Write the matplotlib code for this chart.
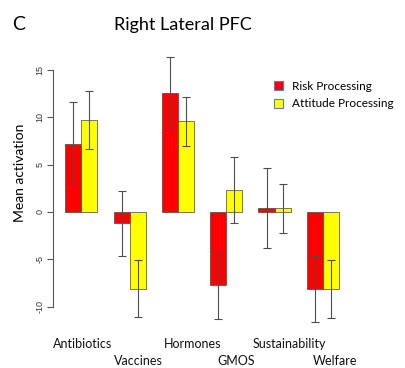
import numpy as np
import matplotlib
matplotlib.use("Agg")
import matplotlib.pyplot as plt
from matplotlib.patches import Patch

categories = ["Antibiotics", "Vaccines", "Hormones", "GMOS", "Sustainability", "Welfare"]
risk = [7.2, -1.2, 12.55, -7.7, 0.42, -8.1]
risk_err = [4.4, 3.45, 3.75, 3.6, 4.25, 3.5]
attitude = [9.7, -8.1, 9.55, 2.35, 0.4, -8.1]
attitude_err = [3.05, 3.03, 2.63, 3.5, 2.6, 3.05]
yticks = [-10, -5, 0, 5, 10, 15]

# label nudges (bar units) relative to group centre, two staggered rows
label_shift = [0.1, 0.55, 0.9, 0.6, 0.9, 0.75]
label_row = [0, 1, 0, 1, 0, 1]

W, H = 406, 368
fig = plt.figure(figsize=(W / 100, H / 100), dpi=100)
ax = fig.add_axes([45 / W, 38 / H, 355 / W, 280 / H])

n = len(categories)
left = 1 + 3 * np.arange(n)   # R barplot beside=TRUE, space=c(0,1)
err_kw = dict(ecolor="#4d4d4d", elinewidth=0.8, capsize=2.8, capthick=0.8)
ax.bar(left, risk, width=1, align="edge", color="#ff0000",
       edgecolor="#444444", linewidth=0.5)
ax.bar(left + 1, attitude, width=1, align="edge", color="#ffff00",
       edgecolor="#444444", linewidth=0.5)
ax.errorbar(left + 0.5, risk, yerr=risk_err, fmt="none", zorder=3, **err_kw)
ax.errorbar(left + 1.5, attitude, yerr=attitude_err, fmt="none", zorder=3, **err_kw)

ax.set_xlim(-0.26, 21.79)
ax.set_ylim(-12.45, 17.09)
for s in ["top", "right", "bottom"]:
    ax.spines[s].set_visible(False)
ax.spines["left"].set_bounds(-10, 15)
ax.spines["left"].set_position(("data", 0.24))
ax.spines["left"].set_color("#555555")
ax.spines["left"].set_linewidth(0.8)
ax.set_xticks([])
ax.set_yticks(yticks)
ax.set_yticklabels([str(v) for v in yticks], rotation=90, va="center",
                   fontsize=6.5, family="Liberation Sans", color="#333333")
ax.tick_params(axis="y", length=4, width=0.8, color="#555555", pad=2)

centres = left + 1
for c, cx, sh, row in zip(categories, centres, label_shift, label_row):
    ax.text(cx + sh, -13.9 - 1.85 * row, c, ha="center", va="center",
            fontsize=9, family="Lato", color="#111111", clip_on=False)

fig.text(20 / W, 1 - 173 / H, "Mean activation", rotation=90, ha="center",
         va="center", fontsize=10, family="Lato")
fig.text(183 / W, 1 - 25 / H, "Right Lateral PFC", ha="center", va="center",
         fontsize=13, family="Lato")
fig.text(19 / W, 1 - 25 / H, "C", ha="center", va="center",
         fontsize=14, family="Lato")

handles = [Patch(facecolor="#ff0000", edgecolor="#5b7fb5", linewidth=0.8),
           Patch(facecolor="#ffff00", edgecolor="#5b7fb5", linewidth=0.8)]
fig.legend(handles, ["Risk Processing", "Attitude Processing"],
           loc="center left", bbox_to_anchor=(268 / W, 1 - 95 / H),
           frameon=False, handlelength=0.8, handleheight=0.8,
           handletextpad=0.7, labelspacing=0.55, borderpad=0,
           prop={"family": "Lato", "size": 8.5})

fig.savefig("out.png", dpi=100)
